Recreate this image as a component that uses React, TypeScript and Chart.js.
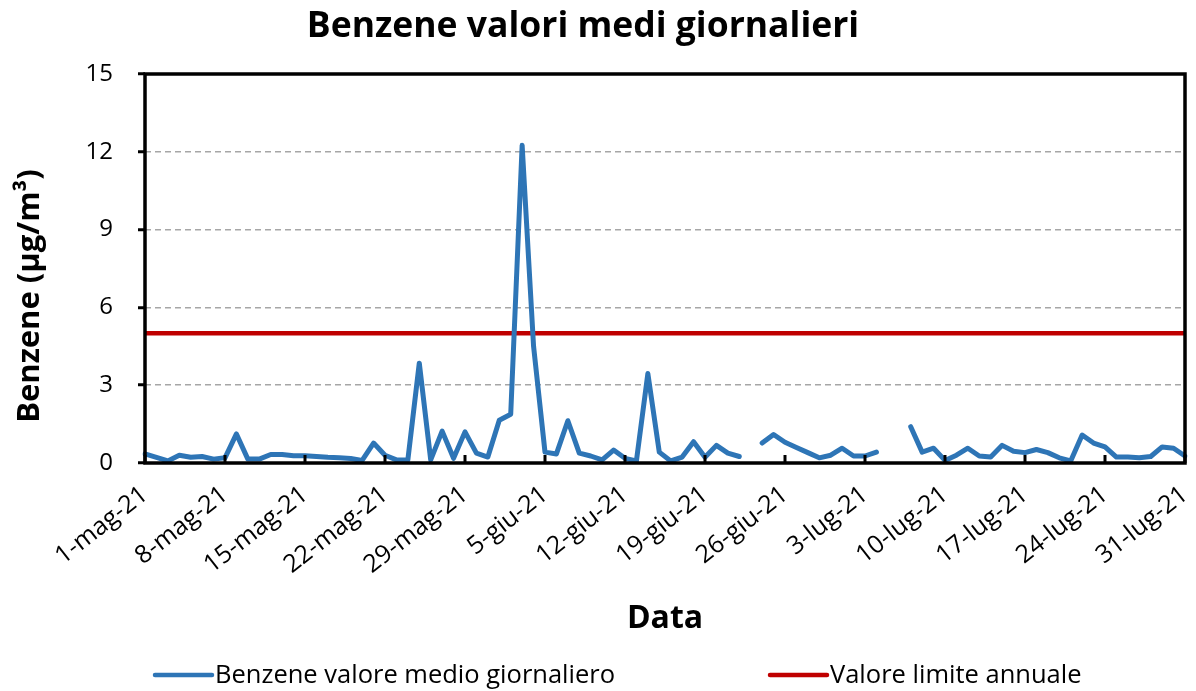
import React, { useEffect, useRef } from "react";
import { Chart, registerables } from "chart.js";

Chart.register(...registerables);

const months: [string, number][] = [
  ["mag", 31],
  ["giu", 30],
  ["lug", 31],
];
const categories: string[] = [];
months.forEach(([m, n]) => {
  for (let d = 1; d <= n; d++) categories.push(`${d}-${m}-21`);
});

const benzene: (number | null)[] = [
  0.35, 0.22, 0.08, 0.3, 0.22, 0.25, 0.15, 0.2, 1.12, 0.15,
  0.15, 0.33, 0.33, 0.28, 0.28, 0.25, 0.22, 0.2, 0.17, 0.1,
  0.77, 0.3, 0.12, 0.12, 3.85, 0.12, 1.23, 0.18, 1.2, 0.38,
  0.23, 1.65, 1.88, 12.25, 4.5, 0.42, 0.35, 1.63, 0.38, 0.27,
  0.12, 0.5, 0.18, 0.08, 3.45, 0.42, 0.08, 0.23, 0.82, 0.22,
  0.68, 0.38, 0.25, null, 0.77, 1.1, 0.8, 0.6, 0.4, 0.2,
  0.3, 0.57, 0.27, 0.27, 0.42, null, null, 1.4, 0.42, 0.57,
  0.1, 0.3, 0.57, 0.27, 0.23, 0.68, 0.45, 0.4, 0.52, 0.4,
  0.2, 0.08, 1.08, 0.77, 0.62, 0.23, 0.23, 0.2, 0.25, 0.62,
  0.57, 0.27,
];

const LIMIT_VALUE = 5;
const limitValues: number[] = categories.map(() => LIMIT_VALUE);

const yTicks = [0, 3, 6, 9, 12, 15];

const TITLE = "Benzene valori medi giornalieri";
const SERIES_1 = "Benzene valore medio giornaliero";
const SERIES_2 = "Valore limite annuale";
const X_TITLE = "Data";
const Y_TITLE = "Benzene (µg/m³)";

const FONT = "'Open Sans'";
const BLUE = "#2E75B6";
const RED = "#C00000";

const framePlugin = {
  id: "frame",
  afterDraw(chart: any) {
    const { ctx, chartArea } = chart;
    const x = chart.scales.x;
    ctx.save();
    ctx.strokeStyle = "#000";
    ctx.lineWidth = 3;
    for (let i = 0; i < categories.length; i += 7) {
      const px = x.getPixelForValue(i);
      ctx.beginPath();
      ctx.moveTo(px, chartArea.bottom);
      ctx.lineTo(px, chartArea.bottom - 8);
      ctx.stroke();
    }
    ctx.lineWidth = 3.5;
    ctx.strokeRect(
      chartArea.left,
      chartArea.top,
      chartArea.right - chartArea.left,
      chartArea.bottom - chartArea.top
    );
    ctx.fillStyle = "#000";
    ctx.font = `bold 35.5px ${FONT}`;
    ctx.textAlign = "center";
    ctx.textBaseline = "middle";
    ctx.fillText(TITLE, 583, 27);
    ctx.save();
    ctx.translate(30, 296);
    ctx.rotate(-Math.PI / 2);
    ctx.font = `bold 31px ${FONT}`;
    ctx.fillText(Y_TITLE, 0, 0);
    ctx.restore();
    const ds = chart.data.datasets;
    const items = [
      { x: 155, label: ds[0].label, color: ds[0].borderColor },
      { x: 770, label: ds[1].label, color: ds[1].borderColor },
    ];
    ctx.font = `25.5px ${FONT}`;
    ctx.textAlign = "left";
    items.forEach((it) => {
      ctx.strokeStyle = it.color;
      ctx.lineWidth = 4.5;
      ctx.lineCap = "round";
      ctx.beginPath();
      ctx.moveTo(it.x, 675);
      ctx.lineTo(it.x + 57, 675);
      ctx.stroke();
      ctx.fillStyle = "#000";
      ctx.fillText(it.label, it.x + 60, 676);
    });
    ctx.restore();
  },
};

export default function App() {
  const ref = useRef<HTMLCanvasElement | null>(null);
  useEffect(() => {
    if (!ref.current) return;
    const chart = new Chart(ref.current, {
      type: "line",
      data: {
        labels: categories,
        datasets: [
          {
            label: SERIES_1,
            data: benzene,
            borderColor: BLUE,
            backgroundColor: BLUE,
            borderWidth: 5,
            borderJoinStyle: "round",
            borderCapStyle: "round",
            pointRadius: 0,
            tension: 0,
            spanGaps: false,
          },
          {
            label: SERIES_2,
            data: limitValues,
            borderColor: RED,
            backgroundColor: RED,
            borderWidth: 4.5,
            pointRadius: 0,
            tension: 0,
          },
        ],
      },
      options: {
        animation: false,
        responsive: false,
        maintainAspectRatio: false,
        layout: { padding: { top: 74, right: 11, left: 0, bottom: 0 } },
        plugins: {
          legend: { display: false },
          title: { display: false },
          tooltip: { enabled: false },
        },
        scales: {
          x: {
            type: "category",
            offset: false,
            grid: { display: false },
            border: { display: false },
            ticks: {
              autoSkip: false,
              maxRotation: 38,
              minRotation: 38,
              padding: 9,
              color: "#000",
              font: { family: FONT, size: 25 },
              callback: (_v: any, i: number) => (i % 7 === 0 ? categories[i] : ""),
            },
            title: {
              display: true,
              text: X_TITLE,
              color: "#000",
              font: { family: FONT, size: 32, weight: "bold" },
              padding: { top: 0, bottom: 53 },
            },
            afterFit: (s: any) => {
              s.height = 691 - 463;
              s.paddingLeft = 0;
              s.paddingRight = 0;
            },
          },
          y: {
            min: 0,
            max: 15,
            afterBuildTicks: (s: any) => {
              s.ticks = yTicks.map((v) => ({ value: v }));
            },
            grid: {
              color: "#A6A6A6",
              lineWidth: 1.5,
              drawTicks: true,
              tickLength: 7,
              tickColor: "#000",
              tickWidth: 3,
            },
            border: { display: false, dash: [6, 4] },
            ticks: {
              padding: 25,
              color: "#000",
              font: { family: FONT, size: 24 },
            },
            title: { display: false },
            afterFit: (s: any) => {
              s.width = 145;
            },
          },
        },
      },
      plugins: [framePlugin],
    });
    return () => chart.destroy();
  }, []);
  return (
    <div style={{ position: "absolute", left: 0, top: 0, width: 1196, height: 691, background: "#fff" }}>
      <canvas ref={ref} width={1196} height={691} style={{ width: 1196, height: 691 }} />
    </div>
  );
}
